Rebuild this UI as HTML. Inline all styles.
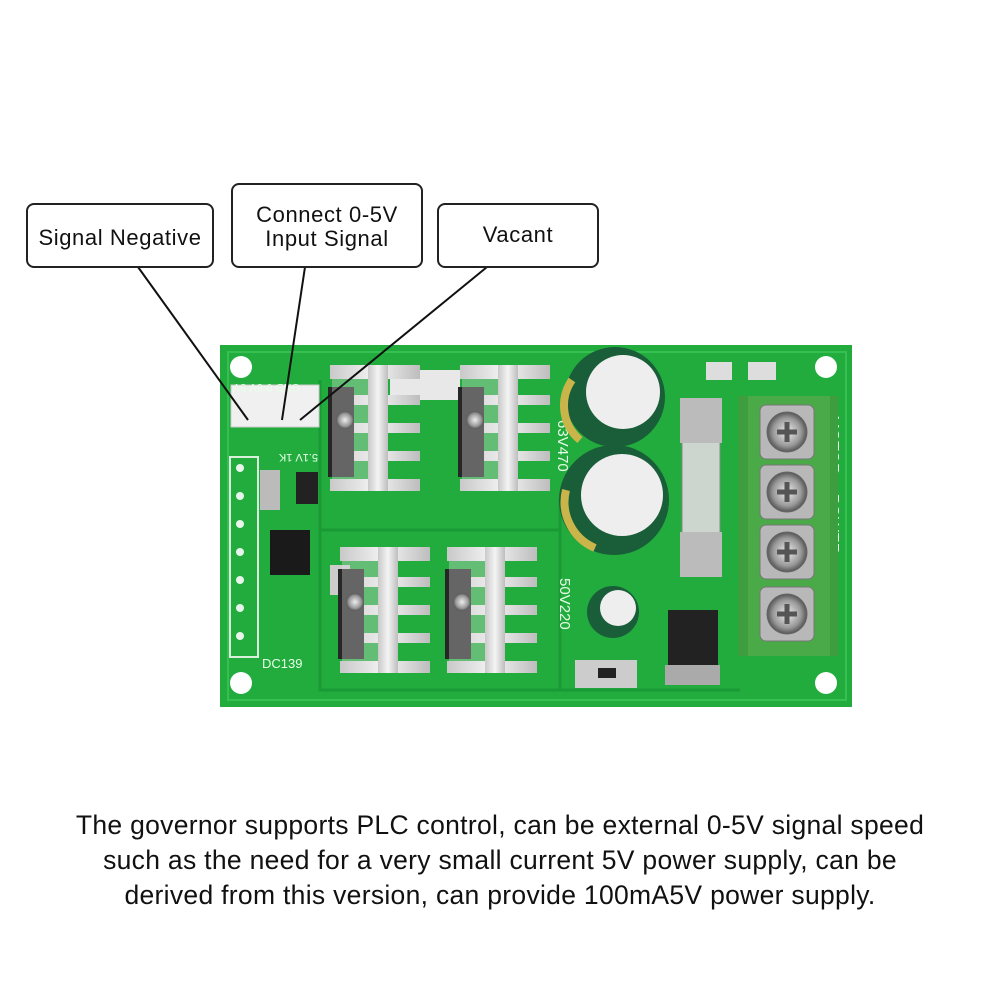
<!DOCTYPE html>
<html><head><style>
body{margin:0;background:#fff;width:1000px;height:1000px;overflow:hidden;font-family:"Liberation Sans",sans-serif}
.box{position:absolute;border:2px solid #222;border-radius:8px;background:#fff;text-align:center;font-size:22px;letter-spacing:0.6px;color:#111;box-sizing:border-box;line-height:24px;white-space:nowrap}
.cap{position:absolute;left:0;width:1000px;text-align:center;font-size:26.5px;letter-spacing:0.3px;color:#111;line-height:35px;top:808px;white-space:nowrap}
</style></head><body>
<svg width="1000" height="1000" style="position:absolute;left:0;top:0">
<defs>
<linearGradient id="hs" x1="0" x2="1"><stop offset="0" stop-color="#c9c9c9"/><stop offset=".5" stop-color="#f4f4f4"/><stop offset="1" stop-color="#bdbdbd"/></linearGradient>
<radialGradient id="sc"><stop offset="0" stop-color="#eee"/><stop offset=".7" stop-color="#999"/><stop offset="1" stop-color="#555"/></radialGradient>
<g id="hsk">
<rect x="0" y="0" width="90" height="14" fill="url(#hs)"/>
<rect x="0" y="30" width="90" height="10" fill="url(#hs)"/>
<rect x="0" y="58" width="90" height="10" fill="url(#hs)"/>
<rect x="0" y="86" width="90" height="10" fill="url(#hs)"/>
<rect x="0" y="114" width="90" height="12" fill="url(#hs)"/>
<rect x="38" y="0" width="20" height="126" fill="url(#hs)"/>
<rect x="-2" y="22" width="26" height="90" fill="#262626"/>
<rect x="2" y="14" width="36" height="100" fill="#dcdcdc" opacity=".35"/>
<circle cx="15" cy="55" r="9" fill="url(#sc)"/>
</g>
<g id="scr">
<rect x="-27" y="-27" width="54" height="54" rx="6" fill="#b8b8b8" stroke="#777"/>
<circle r="20" fill="url(#sc)" stroke="#666"/>
<path d="M-10 0H10M0 -10V10" stroke="#555" stroke-width="5"/>
</g>
</defs>
<rect x="220" y="345" width="632" height="362" fill="#22ac3e"/>
<rect x="228" y="352" width="618" height="348" fill="none" stroke="#37c052" stroke-width="2"/>
<path d="M320 380V690H740M320 530H560M560 500V690" fill="none" stroke="#1a9a35" stroke-width="3"/>
<g fill="#fff"><circle cx="241" cy="367" r="11"/><circle cx="826" cy="367" r="11"/><circle cx="241" cy="683" r="11"/><circle cx="826" cy="683" r="11"/></g>
<rect x="231" y="385" width="88" height="42" fill="#f0f0f0" stroke="#ccc"/>
<rect x="230" y="457" width="28" height="200" fill="none" stroke="#d8f0dc" stroke-width="2"/>
<g fill="#e8f5ea"><circle cx="240" cy="468" r="4"/><circle cx="240" cy="496" r="4"/><circle cx="240" cy="524" r="4"/><circle cx="240" cy="552" r="4"/><circle cx="240" cy="580" r="4"/><circle cx="240" cy="608" r="4"/><circle cx="240" cy="636" r="4"/></g>
<rect x="270" y="530" width="40" height="45" fill="#1a1a1a"/>
<rect x="260" y="470" width="20" height="40" fill="#bbb"/><rect x="296" y="472" width="22" height="32" fill="#222"/>
<rect x="330" y="420" width="20" height="30" fill="#ccc"/><rect x="330" y="565" width="20" height="30" fill="#ccc"/>
<rect x="390" y="370" width="70" height="30" fill="#e8e8e8"/>
<use href="#hsk" x="330" y="365"/>
<use href="#hsk" x="460" y="365"/>
<use href="#hsk" x="340" y="547"/>
<use href="#hsk" x="447" y="547"/>
<g font-family="Liberation Sans" font-size="11" fill="#e8ffe8"><text x="240" y="392" transform="rotate(180 270 388)">GND 0-5V 5V</text><text x="262" y="462" transform="rotate(180 290 458)">5.1V 1K</text><text x="558" y="420" transform="rotate(90 558 420)" font-size="15">63V470</text><text x="560" y="578" transform="rotate(90 560 578)" font-size="15">50V220</text><text x="262" y="668" font-size="13">DC139</text><text x="828" y="410" transform="rotate(90 828 410)" font-size="16">-MOTOR+ -POWER+</text></g>
<circle cx="615" cy="397" r="50" fill="#195e38"/><circle cx="623" cy="392" r="37" fill="#eee"/>
<path d="M572 380 A45 45 0 0 0 580 440" stroke="#c9b54a" stroke-width="8" fill="none"/>
<circle cx="614" cy="500" r="55" fill="#195e38"/><circle cx="622" cy="495" r="41" fill="#eee"/>
<path d="M566 490 A50 50 0 0 0 595 548" stroke="#c9b54a" stroke-width="8" fill="none"/>
<circle cx="613" cy="612" r="26" fill="#195e38"/><circle cx="618" cy="608" r="18" fill="#eee"/>
<rect x="682" y="400" width="38" height="175" rx="12" fill="#cdd5cf" stroke="#888"/>
<rect x="680" y="398" width="42" height="45" fill="#bbb"/><rect x="680" y="532" width="42" height="45" fill="#bbb"/>
<rect x="668" y="610" width="50" height="65" fill="#222"/><rect x="665" y="665" width="55" height="20" fill="#aaa"/>
<rect x="575" y="660" width="62" height="28" fill="#ccc"/><rect x="598" y="668" width="18" height="10" fill="#222"/>
<rect x="706" y="362" width="26" height="18" fill="#ddd"/><rect x="748" y="362" width="28" height="18" fill="#ddd"/>
<rect x="738" y="396" width="100" height="260" fill="#3e9d3e"/>
<rect x="748" y="396" width="82" height="260" fill="#4aaa48"/>
<use href="#scr" x="787" y="432"/><use href="#scr" x="787" y="492"/><use href="#scr" x="787" y="552"/><use href="#scr" x="787" y="614"/>
<g stroke="#111" stroke-width="2" fill="none"><line x1="138" y1="267" x2="248" y2="420"/><line x1="305" y1="267" x2="282" y2="420"/><line x1="487" y1="267" x2="300" y2="420"/></g>
</svg>
<div class="box" style="left:26px;top:203px;width:188px;height:65px;padding-top:21px">Signal Negative</div>
<div class="box" style="left:231px;top:183px;width:192px;height:85px;padding-top:18px">Connect 0-5V<br>Input Signal</div>
<div class="box" style="left:437px;top:203px;width:162px;height:65px;padding-top:18px">Vacant</div>
<div class="cap">The governor supports PLC control, can be external 0-5V signal speed<br>such as the need for a very small current 5V power supply, can be<br>derived from this version, can provide 100mA5V power supply.</div>
</body></html>
